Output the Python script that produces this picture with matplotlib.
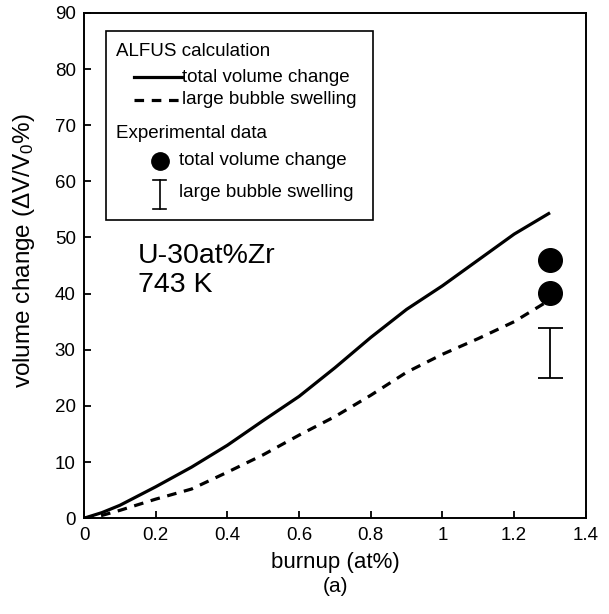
import matplotlib.pyplot as plt
from matplotlib.lines import Line2D
from matplotlib.patches import Rectangle

plt.rcParams["font.family"] = ["Liberation Sans", "DejaVu Sans"]
plt.rcParams["mathtext.fontset"] = "custom"
plt.rcParams["mathtext.rm"] = "Liberation Sans"
plt.rcParams["mathtext.it"] = "Liberation Sans:italic"

# ALFUS calculation
burnup = [0, 0.05, 0.1, 0.2, 0.3, 0.4, 0.5, 0.6, 0.7, 0.8, 0.9, 1.0, 1.1, 1.2, 1.3]
total_calc = [0, 1.0, 2.3, 5.6, 9.1, 13.0, 17.4, 21.7, 26.8, 32.2, 37.2, 41.4, 46.0, 50.6, 54.4]
bubble_calc = [0, 0.5, 1.4, 3.4, 5.2, 8.2, 11.3, 14.8, 18.1, 21.9, 26.0, 29.2, 32.0, 35.0, 38.9]

# experimental data
exp_burnup = [1.3, 1.3]
exp_total = [46.0, 40.2]
exp_bubble_x = 1.3
exp_bubble_lo = 25.0
exp_bubble_hi = 33.8

fig = plt.figure(figsize=(6.09, 6.14), dpi=100)
ax = fig.add_axes([0.138, 0.156, 0.824, 0.823])

ax.plot(burnup, total_calc, color="black", lw=2.3, solid_capstyle="butt")
ax.plot(burnup, bubble_calc, color="black", lw=2.3, dashes=(3.0, 2.4))
ax.plot(exp_burnup, exp_total, "o", color="black", ms=17, zorder=3)
mid = (exp_bubble_lo + exp_bubble_hi) / 2
ax.errorbar([exp_bubble_x], [mid], yerr=[[mid - exp_bubble_lo], [exp_bubble_hi - mid]],
            fmt="none", ecolor="black", elinewidth=1.3, capsize=9, capthick=1.3)

ax.set_xlim(0, 1.4)
ax.set_ylim(0, 90)
ax.set_xticks([0, 0.2, 0.4, 0.6, 0.8, 1, 1.2, 1.4])
ax.set_xticklabels(["0", "0.2", "0.4", "0.6", "0.8", "1", "1.2", "1.4"])
ax.set_yticks(range(0, 91, 10))
ax.tick_params(direction="in", length=5, width=1.3, labelsize=13.5, pad=6)
for s in ax.spines.values():
    s.set_linewidth(1.4)
ax.set_xlabel("burnup (at%)", fontsize=16, labelpad=6)
ax.set_ylabel("volume change (ΔV/V$_0$%)", fontsize=17.5)
ax.yaxis.set_label_coords(-0.094, 0.529)

# hand-built legend box
T = ax.transAxes
LF = 13.5
ax.add_patch(Rectangle((0.044, 0.59), 0.532, 0.374, transform=T, fill=False,
                       lw=1.2, ec="black", zorder=4))
ax.text(0.064, 0.923, "ALFUS calculation", transform=T, fontsize=LF, va="center")
ax.add_line(Line2D([0.100, 0.195], [0.873, 0.873], transform=T, color="black", lw=2.3))
ax.text(0.195, 0.873, "total volume change", transform=T, fontsize=LF, va="center")
ax.add_line(Line2D([0.100, 0.195], [0.828, 0.828], transform=T, color="black", lw=2.3,
                   dashes=(3.0, 2.4)))
ax.text(0.195, 0.828, "large bubble swelling", transform=T, fontsize=LF, va="center")
ax.text(0.064, 0.762, "Experimental data", transform=T, fontsize=LF, va="center")
ax.plot([0.151], [0.707], "o", color="black", ms=12.5, transform=T, clip_on=False)
ax.text(0.190, 0.707, "total volume change", transform=T, fontsize=LF, va="center")
ax.add_line(Line2D([0.151, 0.151], [0.612, 0.669], transform=T, color="black", lw=1.2))
ax.add_line(Line2D([0.138, 0.164], [0.669, 0.669], transform=T, color="black", lw=1.2))
ax.add_line(Line2D([0.138, 0.164], [0.612, 0.612], transform=T, color="black", lw=1.2))
ax.text(0.190, 0.645, "large bubble swelling", transform=T, fontsize=LF, va="center")

ax.text(0.107, 0.505, "U-30at%Zr", transform=T, fontsize=20.5, va="baseline")
ax.text(0.107, 0.448, "743 K", transform=T, fontsize=20.5, va="baseline")

fig.text(0.551, 0.044, "(a)", fontsize=15, ha="center", va="center")

fig.savefig("out.png", dpi=100)
